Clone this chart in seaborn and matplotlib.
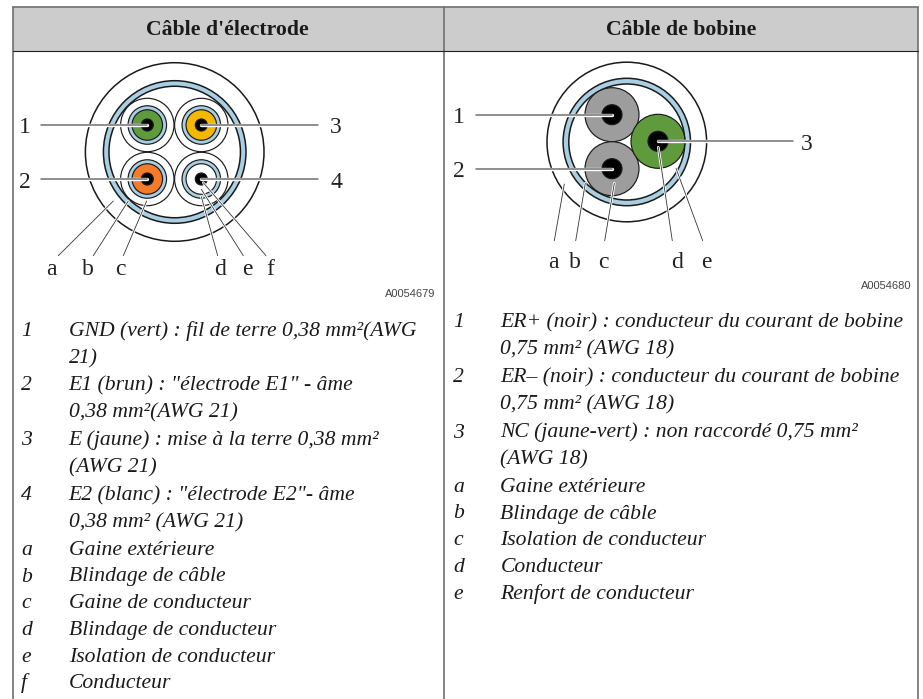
import matplotlib
matplotlib.use('Agg')
import matplotlib.pyplot as plt
import seaborn as sns
from matplotlib.patches import Rectangle

BLACK = '#1a1a1a'
BLUE = '#a9cfe3'
WHITE = '#ffffff'
GREEN = '#5f9b3c'
YELLOW = '#f5b800'
ORANGE = '#f47b2a'
GREY = '#9d9d9d'

# Table
headers = ["Câble d'électrode", "Câble de bobine"]
header_x = [227.7, 681.3]
table_edges = [12.5, 444, 917.5]
table_top, header_bottom = 7, 50.5

# Left cable: rings, biggest first
left_x = [174.7, 174.7, 174.7]
left_y = [152, 152, 152]
left_d = [178.6, 142.6, 131.5]
left_fill = [WHITE, BLUE, WHITE]
left_pair_x = [147.3, 201.3, 147.3, 201.3]
left_pair_y = [125, 125, 179, 179]
left_pair_fill = [GREEN, YELLOW, ORANGE, WHITE]

# Right cable
right_x = [626.8, 626.8, 626.8]
right_y = [142, 142, 142]
right_d = [159.6, 127.4, 116]
right_fill = [WHITE, BLUE, WHITE]
right_core_x = [612, 612, 658]
right_core_y = [114.7, 168.7, 141.3]
right_core_fill = [GREY, GREY, GREEN]

# Leaders
main_x0 = [41.3, 41.3, 201.3, 201.3, 476.3, 476.3, 658]
main_x1 = [147.3, 147.3, 318, 318, 612, 612, 793.3]
main_y = [125, 179, 125, 179, 114.7, 168.7, 141.3]

thin_x0 = [58.3, 93.3, 123.3, 217.7, 243.3, 266, 554.3, 575.7, 604.7, 672.3, 702.7]
thin_y0 = [255.7, 255.7, 255.7, 255.7, 255.7, 255.7, 240.7, 240.7, 240.7, 240.7, 240.7]
thin_x1 = [113.3, 128.3, 146.7, 201.3, 201.3, 203.3, 564.3, 585.3, 614.3, 658.3, 676]
thin_y1 = [201, 201, 201, 196.7, 189.3, 182.7, 184, 183.3, 183.3, 147.3, 168.3]

# Callout labels
callout_text = ['1', '2', '3', '4', '1', '2', '3']
callout_x = [25, 25, 336, 336, 459, 459, 807]
callout_y = [133, 187.5, 133, 187.5, 123, 177, 149.5]
letter_text = ['a', 'b', 'c', 'd', 'e', 'f', 'a', 'b', 'c', 'd', 'e']
letter_x = [51.7, 87.7, 120.7, 220, 247, 270, 553.7, 575.3, 603.3, 677, 706.7]
letter_y = [275, 275, 275, 275, 275, 275, 268, 268, 268, 268, 268]
refs = ['A0054679', 'A0054680']
ref_x = [435, 911]
ref_y = [294, 286]

# Legends
left_keys = ['1', '', '2', '', '3', '', '4', '', 'a', 'b', 'c', 'd', 'e', 'f']
left_lines = [
    'GND (vert) : fil de terre 0,38 mm²(AWG',
    '21)',
    'E1 (brun) : "électrode E1" - âme',
    '0,38 mm²(AWG 21)',
    'E (jaune) : mise à la terre 0,38 mm²',
    '(AWG 21)',
    'E2 (blanc) : "électrode E2"- âme',
    '0,38 mm² (AWG 21)',
    'Gaine extérieure',
    'Blindage de câble',
    'Gaine de conducteur',
    'Blindage de conducteur',
    'Isolation de conducteur',
    'Conducteur',
]
left_baselines = [336, 363.3, 390, 417.3, 445.3, 472.5, 500, 527.3, 555, 581.5, 608.3, 635, 661.7, 688.3]

right_keys = ['1', '', '2', '', '3', '', 'a', 'b', 'c', 'd', 'e']
right_lines = [
    'ER+ (noir) : conducteur du courant de bobine',
    '0,75 mm² (AWG 18)',
    'ER– (noir) : conducteur du courant de bobine',
    '0,75 mm² (AWG 18)',
    'NC (jaune-vert) : non raccordé 0,75 mm²',
    '(AWG 18)',
    'Gaine extérieure',
    'Blindage de câble',
    'Isolation de conducteur',
    'Conducteur',
    'Renfort de conducteur',
]
right_baselines = [327, 354.3, 382, 409.3, 437.5, 464.5, 491.7, 518.5, 545.3, 572, 598.7]


def draw_rings(ax, xs, ys, ds, fills, lw=0.85):
    # scatter size is area in pt^2, 1 px = 0.72 pt here
    sizes = [(d * 0.72) ** 2 for d in ds]
    palette = {c: c for c in fills}
    sns.scatterplot(x=xs, y=ys, hue=fills, palette=palette, s=sizes,
                    edgecolor=BLACK, linewidth=lw, legend=False, ax=ax)


def draw_leader(ax, xs, ys, color, lw):
    sns.lineplot(x=xs, y=ys, color='white', linewidth=lw + 1.3, estimator=None, sort=False, ax=ax)
    sns.lineplot(x=xs, y=ys, color=color, linewidth=lw, estimator=None, sort=False, ax=ax)


sns.set_theme(style="white")
plt.rcParams['font.family'] = ['Liberation Serif', 'DejaVu Serif']

fig = plt.figure(figsize=(9.23, 6.99), dpi=100)
ax = fig.add_axes([0, 0, 1, 1])

# Table frame
ax.add_patch(Rectangle((table_edges[0], table_top), table_edges[2] - table_edges[0],
                       header_bottom - table_top, facecolor='#cccccc', edgecolor='none'))
for x in table_edges:
    sns.lineplot(x=[x, x], y=[table_top, 699], color='#707070', linewidth=1.2, ax=ax, estimator=None, sort=False)
sns.lineplot(x=[table_edges[0], table_edges[2]], y=[table_top, table_top], color='#707070', linewidth=1.2, ax=ax, estimator=None)
sns.lineplot(x=[table_edges[0], table_edges[2]], y=[header_bottom, header_bottom], color='#222222', linewidth=0.8, ax=ax, estimator=None)

# Left cable
draw_rings(ax, left_x, left_y, left_d, left_fill, lw=1.1)
for px, py, fill in zip(left_pair_x, left_pair_y, left_pair_fill):
    draw_rings(ax, [px, px, px, px], [py, py, py, py], [53.4, 38.5, 30.5, 12],
               [WHITE, BLUE, fill, '#000000'])

# Right cable
draw_rings(ax, right_x, right_y, right_d, right_fill, lw=1.1)
for px, py, fill in zip(right_core_x, right_core_y, right_core_fill):
    draw_rings(ax, [px, px], [py, py], [54, 20], [fill, '#000000'])

# Leader lines
for x0, x1, y in zip(main_x0, main_x1, main_y):
    draw_leader(ax, [x0, x1], [y, y], '#707070', 1.1)
for x0, y0, x1, y1 in zip(thin_x0, thin_y0, thin_x1, thin_y1):
    draw_leader(ax, [x0, x1], [y0, y1], '#333333', 0.6)

ax.set_xlim(0, 923)
ax.set_ylim(699, 0)
ax.axis('off')

# Text
for label, x in zip(headers, header_x):
    ax.text(x, 35, label, ha='center', va='baseline', fontsize=15.7, fontweight='bold', color='#1a1a1a')
for label, x, y in zip(callout_text, callout_x, callout_y):
    ax.text(x, y, label, ha='center', va='baseline', fontsize=17, color='#222222')
for label, x, y in zip(letter_text, letter_x, letter_y):
    ax.text(x, y, label, ha='center', va='baseline', fontsize=17, color='#222222')
for label, x, y in zip(refs, ref_x, ref_y):
    ax.text(x, y, label, ha='right', va='center', fontsize=8, family='Liberation Sans', color='#444444')

for key, line, y in zip(left_keys, left_lines, left_baselines):
    ax.text(21, y, key, fontsize=15.6, style='italic', color='#1a1a1a', va='baseline')
    ax.text(68.7, y, line, fontsize=15.6, style='italic', color='#1a1a1a', va='baseline')
for key, line, y in zip(right_keys, right_lines, right_baselines):
    ax.text(453, y, key, fontsize=15.6, style='italic', color='#1a1a1a', va='baseline')
    ax.text(500.3, y, line, fontsize=15.6, style='italic', color='#1a1a1a', va='baseline')

fig.savefig('out.png', dpi=100)
plt.close(fig)
